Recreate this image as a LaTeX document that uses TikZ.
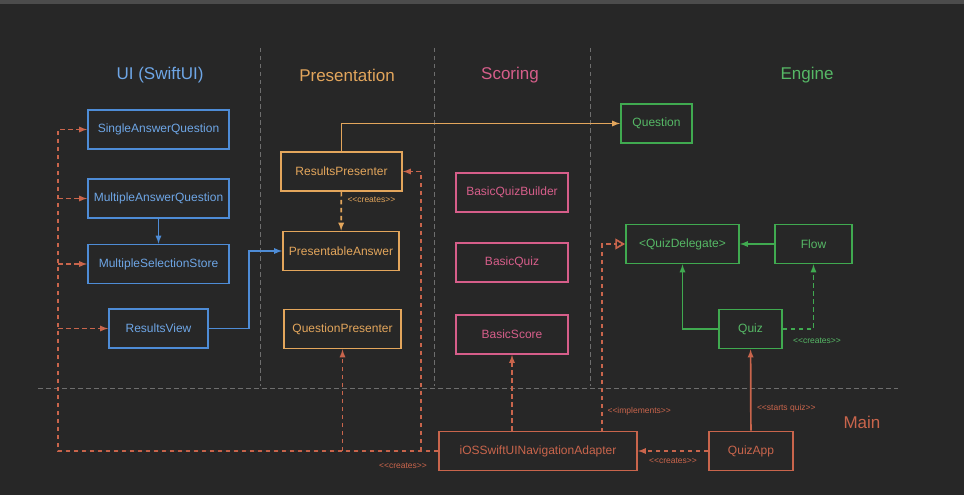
\documentclass[tikz,border=0pt]{standalone}
\usepackage{fontspec}
\setmainfont{Liberation Sans}
\usetikzlibrary{arrows,positioning}
\definecolor{bg}{RGB}{39,39,39}
\definecolor{sepgray}{RGB}{110,110,110}
\definecolor{uiblue}{RGB}{78,140,214}
\definecolor{uitext}{RGB}{110,166,230}
\definecolor{preorange}{RGB}{227,166,92}
\definecolor{scopink}{RGB}{214,94,138}
\definecolor{enggreen}{RGB}{64,170,80}
\definecolor{engtext}{RGB}{86,184,102}
\definecolor{mainred}{RGB}{201,101,76}
\newcommand{\stereo}[1]{\textless\kern0pt\textless#1\textgreater\kern0pt\textgreater}

\begin{document}
\begin{tikzpicture}[x=1pt,y=-1pt,
  box/.style={draw,line width=1.9pt,minimum height=39pt,inner sep=0pt,font=\fontsize{12}{14}\selectfont},
  uibox/.style={box,draw=uiblue,text=uitext},
  prebox/.style={box,draw=preorange,text=preorange},
  scobox/.style={box,draw=scopink,text=scopink},
  engbox/.style={box,draw=enggreen,text=engtext},
  mainbox/.style={box,draw=mainred,text=mainred},
  head/.style={font=\fontsize{17}{20}\selectfont},
  lbl/.style={font=\fontsize{8.5}{10}\selectfont},
  sep/.style={draw=sepgray,line width=1pt,dash pattern=on 4.5pt off 3.5pt},
  link/.style={line width=1.7pt,->,>=latex},
  dlink/.style={link,dash pattern=on 4.5pt off 3.5pt},
]
\useasboundingbox (0,0) rectangle (964,495);
\fill[bg] (0,0) rectangle (964,495);
\fill[black!70!white] (0,0) rectangle (964,4);

% layers
\foreach \x in {260,434,590} \draw[sep] (\x,48) -- (\x,386);
\draw[sep] (38,388) -- (898,388);

\node[head,text=uitext] (hui) at (160,75) {UI (SwiftUI)};
\node[head,text=preorange] (hpre) at (347,75) {Presentation};
\node[head,text=scopink] (hsco) at (510,75) {Scoring};
\node[head,text=engtext] (heng) at (807,75) {Engine};
\node[head,text=mainred] (hmain) at (862,422) {Main};

% UI
\node[uibox,minimum width=141pt] (saq) at (158.5,129.5) {SingleAnswerQuestion};
\node[uibox,minimum width=141pt] (maq) at (158.5,198.5) {MultipleAnswerQuestion};
\node[uibox,minimum width=141pt] (mss) at (158.5,264) {MultipleSelectionStore};
\node[uibox,minimum width=99pt] (rv) at (158.5,328.5) {ResultsView};

% Presentation
\node[prebox,minimum width=121pt] (rp) at (341.5,171.5) {ResultsPresenter};
\node[prebox,minimum width=116pt] (pa) at (341,251) {PresentableAnswer};
\node[prebox,minimum width=117pt] (qp) at (342.5,329) {QuestionPresenter};

% Scoring
\node[scobox,minimum width=112pt] (bqb) at (512,192.5) {BasicQuizBuilder};
\node[scobox,minimum width=112pt] (bq) at (512,262.5) {BasicQuiz};
\node[scobox,minimum width=112pt] (bs) at (512,334.5) {BasicScore};

% Engine
\node[engbox,minimum width=71pt] (q) at (656.5,123.5) {Question};
\node[engbox,minimum width=113pt] (qd) at (682.5,244) {<QuizDelegate>};
\node[engbox,minimum width=77pt] (flow) at (813.5,244) {Flow};
\node[engbox,minimum width=63pt] (quiz) at (750.5,329) {Quiz};

% Main
\node[mainbox,minimum width=198pt] (adapter) at (538,451) {iOSSwiftUINavigationAdapter};
\node[mainbox,minimum width=84pt] (app) at (751,451) {QuizApp};

\coordinate (uibus) at (58,451);
\coordinate (rpbus) at (421,451);
\coordinate (impl) at (602,432);

\draw[link,uiblue] (maq) -- (mss);
\draw[link,uiblue] (rv.east) -- ++(40,0) |- (pa.west);
\draw[link,preorange] (rp.north) |- (q.west);
\draw[dlink,preorange] (rp) -- (pa) node[lbl,pos=0.2,right=2pt] {\stereo{creates}};

\draw[dlink,mainred] (adapter.west) -- (uibus) |- (saq.west);
\draw[dlink,mainred] (uibus |- maq.west) -- (maq.west);
\draw[dlink,mainred] (uibus |- mss.west) -- (mss.west);
\draw[dlink,mainred] (uibus |- rv.west) -- (rv.west);
\draw[dlink,mainred] (qp.south |- uibus) -- (qp.south);
\draw[dlink,mainred] (rpbus) |- (rp.east);
\node[lbl,text=mainred] at (403,466) {\stereo{creates}};
\draw[dlink,mainred] (adapter.north -| bs.south) -- (bs.south);
\draw[dlink,mainred,>=open triangle 60] (impl) |- (qd.west);
\node[lbl,text=mainred,anchor=west] at (604,411) {\stereo{implements}};

\draw[link,enggreen] (flow) -- (qd);
\draw[link,enggreen] (quiz.west) -| (qd.south);
\draw[dlink,enggreen] (quiz.east) -| (flow.south);
\node[lbl,text=engtext] at (817,341) {\stereo{creates}};

\draw[dlink,mainred] (app) -- (adapter) node[lbl,midway,below=3pt] {\stereo{creates}};
\draw[link,mainred] (app) -- (quiz) node[lbl,pos=0.28,right=2pt] {\stereo{starts quiz}};
\end{tikzpicture}
\end{document}
